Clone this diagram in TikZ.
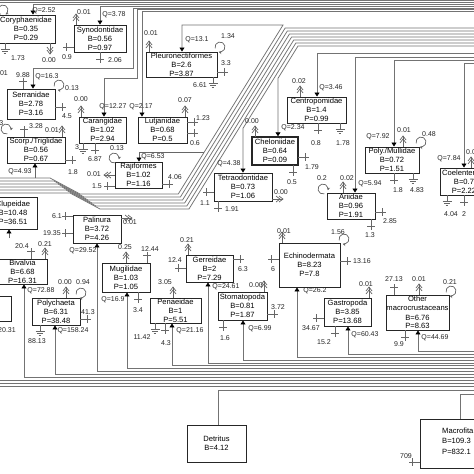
\documentclass[tikz,border=0pt]{standalone}
\usepackage{fontspec}
\setmainfont{Liberation Sans}
\usetikzlibrary{arrows.meta}
\tikzset{
  flow/.style={draw=black!60, line width=0.7pt},
  bund/.style={draw=black!55, line width=0.75pt},
  box/.style={draw=black!85, line width=0.95pt, fill=white, inner sep=0pt, align=center,
              font=\fontsize{7.6}{9}\selectfont},
  lbl/.style={inner sep=0pt, font=\fontsize{7}{8}\selectfont, text=black!85},
  qtip/.style={-{Triangle[length=4pt,width=5pt,color=black]}},
}
\newcommand{\bx}[6]{\node[box,minimum width=#4pt,minimum height=#5pt] (#1) at (#2,#3) {#6};}
\newcommand{\lb}[4]{\node[lbl] (#1) at (#2,#3) {#4};}
\newcommand{\expV}[3]{\draw[flow] (#1,#2) -- ++(0,{11*(#3)}); \draw[flow] ({#1-4},{#2+7.5*(#3)}) -- ({#1+4},{#2+7.5*(#3)});}
\newcommand{\expH}[3]{\draw[flow] (#1,#2) -- ++({11*(#3)},0); \draw[flow] ({#1+7.5*(#3)},{#2-4}) -- ({#1+7.5*(#3)},{#2+4});}
\newcommand{\gnd}[2]{\draw[flow] (#1,#2) -- ++(0,6); \draw[flow] ({#1-4.5},{#2+6}) -- ++(9,0); \draw[flow] ({#1-3},{#2+8}) -- ++(6,0); \draw[flow] ({#1-1.3},{#2+10}) -- ++(2.6,0);}
\newcommand{\respV}[3]{\draw[flow] (#1,#2) -- ++(0,{11*(#3)});
  \draw[flow] ({#1-3},{#2+7*(#3)}) -- ({#1},{#2+11*(#3)}) -- ({#1+3},{#2+7*(#3)});
  \draw[flow] ({#1-3},{#2+4*(#3)}) -- ({#1},{#2+8*(#3)}) -- ({#1+3},{#2+4*(#3)});}
\newcommand{\respH}[3]{\draw[flow] (#1,#2) -- ++({11*(#3)},0);
  \draw[flow] ({#1+7*(#3)},{#2-3}) -- ({#1+11*(#3)},{#2}) -- ({#1+7*(#3)},{#2+3});
  \draw[flow] ({#1+4*(#3)},{#2-3}) -- ({#1+8*(#3)},{#2}) -- ({#1+4*(#3)},{#2+3});}
\newcommand{\sloop}[3]{\draw[flow,-{Stealth[length=3pt,width=3pt]}] (#1,#2) ++({#3+30}:5) arc[start angle={#3+30}, end angle={#3+330}, radius=5];}
\begin{document}
\begin{tikzpicture}[x=1pt,y=-1pt]
\useasboundingbox[fill=white] (0,0) rectangle (474,474);
% ---------- boxes ----------
\bx{cory}{26}{29}{58}{28}{Coryphaenidae\\B=0.35\\P=0.29}
\bx{syn}{100}{38.5}{52}{27}{Synodontidae\\B=0.56\\P=0.97}
\bx{serr}{31}{104}{48}{30}{Serranidae\\B=2.78\\P=3.16}
\bx{pleu}{181.5}{64.5}{71}{25}{Pleuronectiformes\\B=2.6\\P=3.87}
\bx{car}{102.5}{130}{47}{26}{Carangidae\\B=1.02\\P=2.94}
\bx{lut}{162.5}{130}{49}{26}{Lutjanidae\\B=0.68\\P=0.5}
\bx{cent}{316.5}{110}{59}{26}{Centropomidae\\B=1.4\\P=0.99}
\bx{scorp}{36}{150}{58}{26}{Scorp./Triglidae\\B=0.56\\P=0.67}
\bx{raj}{138.5}{175}{47}{26}{Rajiformes\\B=1.02\\P=1.16}
\node[box,line width=1.5pt,minimum width=46pt,minimum height=28pt] (chel) at (275,151) {Cheloniidae\\B=0.64\\P=0.09};
\bx{tet}{243}{187}{58}{28}{Tetraodontidae\\B=0.73\\P=1.06}
\bx{poly}{392}{160}{54}{26}{Poly./Mullidae\\B=0.72\\P=1.51}
\bx{coel}{464}{181.5}{48}{27}{Coelenterata\\B=0.7\\P=2.22}
\bx{ari}{351}{206}{48}{26}{Ariidae\\B=0.96\\P=1.91}
\bx{clup}{13}{213}{48}{32}{Clupeidae\\B=10.48\\P=36.51}
\bx{pal}{97}{229}{48}{28}{Palinura\\B=3.72\\P=4.26}
\bx{biv}{22.5}{271.5}{49}{25}{Bivalvia\\B=6.68\\P=16.31}
\bx{poch}{56}{311.5}{48}{27}{Polychaeta\\B=6.31\\P=38.48}
\bx{lcut}{-14.5}{308.5}{51}{25}{}
\bx{mug}{126}{277.5}{48}{29}{Mugilidae\\B=1.03\\P=1.05}
\bx{pen}{175.5}{310.5}{51}{25}{Penaeidae\\B=1\\P=5.51}
\bx{ger}{209.5}{268.5}{47}{27}{Gerreidae\\B=2\\P=7.29}
\bx{sto}{242.5}{306}{49}{28}{Stomatopoda\\B=0.81\\P=1.87}
\bx{echi}{309.5}{265}{61}{44}{Echinodermata\\B=8.23\\P=7.8}
\bx{gas}{347.5}{312}{47}{28}{Gastropoda\\B=3.85\\P=13.68}
\node[box,minimum width=63pt,minimum height=35pt,font=\fontsize{7.6}{8.5}\selectfont] (oth) at (417.5,312.5) {Other\\macrocrustaceans\\[1.5pt]B=6.76\\P=8.63};
\bx{det}{216.5}{443.5}{59}{37}{Detritus\\B=4.12}
\node[box,minimum width=90pt,minimum height=49pt] (mac) at (465,443.5) {};
\node[inner sep=0pt,anchor=west,align=left,font=\fontsize{7.6}{10.5}\selectfont] (mactxt) at (442,441) {Macrofita\\B=109.3\\P=832.1};
% ---------- top connectors ----------
\draw[bund] (0,0.8) -- (474,0.8);
\draw[bund] (0,2.6) -- (474,2.6);
\draw[bund,qtip] (474,4.4) -- (33,4.4) -- (33,0 |- cory.north);
\draw[bund,qtip] (474,6.2) -- (100,6.2) -- (100,0 |- syn.north);
\draw[bund,qtip] (474,8) -- (133,8) -- (133,68) -- (33,68) -- (33,0 |- serr.north);
\draw[bund,qtip] (474,9.8) -- (137,9.8) -- (137,78) -- (104,78) -- (104,0 |- car.north);
\draw[bund,qtip] (474,11.6) -- (142,11.6) -- (142,0 |- lut.north);
\draw[bund,qtip] (0,178) -- (50,178) -- (80,194) -- (178.26,194) -- (283.04,25) -- (182,25) -- (182,0 |- pleu.north);
\foreach \i in {1,...,5}{
  \draw[bund] (474,{25+3*\i}) -- ({226+4*\i+0.62*(92-3*\i)},{25+3*\i}) -- ({226+4*\i-0.62*(77+3*\i)},{194+3*\i}) -- ({80+4*\i},{194+3*\i}) -- ({50+4*\i},{178+3*\i}) -- (0,{178+3*\i});
}
\draw[flow,qtip] (35,178) -- (35,0 |- scorp.south);
\draw[flow,qtip] (204.3,152) -- (139,152) -- (139,0 |- raj.north);
\draw[bund,qtip] (474,43) -- (295.9,43) -- (243,128.3) -- (243,0 |- tet.north);
\draw[bund,qtip] (474,46) -- (298,46) -- (278,78.3) -- (278,0 |- chel.north);
\draw[bund,qtip] (474,53) -- (317,53) -- (317,0 |- cent.north);
\draw[bund,qtip] (474,57) -- (355,57) -- (355,0 |- ari.north);
\draw[bund,qtip] (474,60) -- (394,60) -- (394,0 |- poly.north);
\draw[bund,qtip] (474,63) -- (464,63) -- (464,0 |- coel.north);
% ---------- bottom connectors ----------
\foreach \x/\b/\k in {24/biv/0,55/poch/1,97/pal/2,127/mug/3,172/pen/4,208/ger/5,243/sto/6,297/echi/7,348/gas/8,418/oth/9}{
  \draw[bund,qtip] (474,{377-2.8*\k}) -- (\x,{377-2.8*\k}) -- (\x,0 |- \b.south);
}
\foreach \yy in {380,383,386}{\draw[bund] (0,\yy) -- (474,\yy);}
\draw[bund] (218,0 |- det.north) -- (218,390) -- (474,390);
\draw[bund] (460,0 |- mac.north) -- (460,394) -- (474,394);
\draw[flow,qtip] (9,238) -- (9,0 |- clup.south);
% ---------- symbols ----------
\sloop{3}{10}{90} \gnd{5}{43} \respV{50}{43}{1}
\respV{76}{25}{-1} \expH{74}{47}{-1} \expV{100}{52}{1}
\expV{23}{89}{-1} \sloop{59}{85}{135} \expH{55}{107}{1}
\respV{81}{117}{-1} \gnd{83}{143} \expV{95}{143}{1}
\respV{185}{117}{-1} \expH{187}{122}{1} \expH{187}{133}{1}
\respV{149}{52}{-1} \sloop{220}{47}{135} \expH{217}{72}{1} \gnd{213}{77}
\respV{300}{97}{-1} \expV{318}{123}{1} \gnd{340}{123}
\expV{24}{137}{-1} \respV{62}{137}{-1} \sloop{6}{129}{45} \expH{65}{160}{1}
\sloop{114}{158}{45} \respH{115}{175}{-1} \expH{115}{186}{-1} \expH{162}{184}{1}
\respV{255}{137}{-1} \expH{298}{157}{1} \expV{293}{165}{1}
\expH{214}{192}{-1} \expV{218}{201}{1} \respH{272}{199}{1}
\respV{403}{147}{-1} \sloop{421}{142}{135} \expV{394}{173}{1} \gnd{413}{173}
\respV{471}{168}{-1} \gnd{447}{195} \expV{464}{195}{1}
\sloop{323}{189}{45} \respV{343}{193}{-1} \expH{375}{212}{1} \expV{371}{219}{1}
\expH{73}{216}{-1} \expH{73}{233}{-1} \respH{121}{218}{1}
\expV{31}{259}{-1} \respV{45}{259}{-1}
\respV{66}{298}{-1} \sloop{81}{293}{135} \expH{80}{319}{1} \gnd{40}{325}
\respV{126}{263}{-1} \expV{147}{263}{-1} \expV{138}{292}{1}
\respV{173}{298}{-1} \expV{165}{323}{1} \gnd{155}{323}
\respV{188}{255}{-1} \expH{186}{268}{-1} \expH{233}{259}{1}
\respV{264}{292}{-1} \expH{267}{314}{1} \expV{223}{320}{1}
\respV{282}{243}{-1} \expH{279}{259}{-1} \sloop{344}{239}{135} \expH{340}{261}{1}
\respV{369}{298}{-1} \expV{335}{326}{1} \expH{324}{318}{-1}
\expV{394}{295}{-1} \respV{419}{295}{-1} \sloop{451}{291}{135} \expV{405}{330}{1}
\expH{420}{462}{-1}
% ---------- labels ----------
\lb{a1}{44}{11}{Q=2.52} \lb{a2}{18}{58}{1.73} \lb{a3}{49}{60}{0.00}
\lb{a4}{114}{15}{Q=3.78} \lb{a5}{84}{12}{0.01} \lb{a6}{67}{57}{0.9} \lb{a7}{115}{60}{2.06}
\lb{a8}{47}{77}{Q=16.3} \lb{a9}{23}{75}{9.88} \node[lbl,anchor=east] (a10) at (8,73) {0.01}; \lb{a11}{72}{88}{0.13} \lb{a12}{67}{116}{4.5}
\lb{a13}{81}{99}{0.00} \lb{a14}{113}{107}{Q=12.27} \lb{a15}{77}{147}{3} \lb{a16}{95}{159}{6.87}
\lb{a17}{141}{107}{Q=2.17} \lb{a18}{185}{100}{0.07} \lb{a19}{203}{118}{1.23} \lb{a20}{195}{143}{0.6}
\lb{a21}{197}{40}{Q=13.1} \lb{a22}{151}{33}{0.01} \lb{a23}{228}{36}{1.34} \lb{a24}{226}{63}{3.3} \lb{a25}{200}{85}{6.61}
\lb{a26}{331}{88}{Q=3.46} \lb{a27}{299}{81}{0.02} \lb{a28}{316}{143}{0.8} \lb{a29}{343}{143}{1.78}
\lb{a30}{36}{126}{3.28} \lb{a31}{52}{130}{0.01} \node[lbl,anchor=east] (a32) at (3.5,123) {3}; \lb{a33}{20}{172}{Q=4.93} \lb{a34}{73}{172}{1.8}
\lb{a35}{153}{157}{Q=6.53} \lb{a36}{117}{148}{0.13} \lb{a37}{94}{174}{0.01} \lb{a38}{97}{186}{1.5} \lb{a39}{175}{177}{4.06}
\lb{a40}{293}{128}{Q=2.34} \lb{a41}{252}{121}{0.00} \lb{a42}{312}{167}{1.79} \lb{a43}{292}{182}{0.5}
\lb{a44}{229}{164}{Q=4.38} \lb{a45}{205}{203}{1.1} \lb{a46}{232}{209}{1.91} \lb{a47}{281}{192}{0.00}
\lb{a48}{378}{137}{Q=7.92} \lb{a49}{404}{130}{0.01} \lb{a50}{429}{134}{0.48} \lb{a51}{398}{190}{1.8} \lb{a52}{417}{190}{4.83}
\lb{a53}{449}{159}{Q=7.84} \node[lbl,anchor=west] (a54) at (466,152) {0.01}; \lb{a55}{451}{214}{4.04} \lb{a56}{464}{214}{2}
\lb{a57}{370}{184}{Q=5.94} \lb{a58}{322}{178}{0.2} \lb{a59}{347}{178}{0.02} \lb{a60}{390}{221}{2.85} \lb{a61}{370}{235}{1.3}
\lb{a62}{83}{251}{Q=29.52} \lb{a63}{57}{216}{6.1} \lb{a64}{52}{233}{19.35} \lb{a65}{130}{222}{0.01}
\lb{a66}{41}{291}{Q=72.88} \lb{a67}{22}{246}{20.4} \lb{a68}{45}{244}{0.21}
\lb{a69}{73}{331}{Q=158.24} \lb{a70}{65}{282}{0.00} \lb{a71}{83}{282}{0.94} \lb{a72}{88}{312}{41.3} \lb{a73}{37}{341}{88.13}
\lb{a74}{7}{330}{20.31}
\lb{a75}{113}{300}{Q=16.9} \lb{a76}{125}{247}{0.25} \lb{a77}{150}{249}{12.44} \lb{a78}{138}{310}{3.4}
\lb{a79}{190}{331}{Q=21.16} \lb{a80}{165}{282}{3.05} \lb{a81}{166}{343}{4.3} \lb{a82}{142}{337}{11.42}
\lb{a83}{226}{287}{Q=24.61} \lb{a84}{187}{240}{0.21} \lb{a85}{175}{260}{12.4} \lb{a86}{243}{269}{6.3}
\lb{a87}{260}{329}{Q=6.99} \lb{a88}{256}{285}{0.00} \lb{a89}{278}{307}{3.72} \lb{a90}{225}{338}{1.6}
\lb{a91}{315}{291}{Q=26.2} \lb{a92}{284}{231}{0.01} \lb{a93}{273}{269}{6} \lb{a94}{338}{232}{1.56} \lb{a95}{362}{261}{13.16}
\lb{a96}{365}{335}{Q=60.43} \lb{a97}{366}{284}{0.01} \lb{a98}{324}{342}{15.2} \lb{a99}{311}{328}{34.67}
\lb{a100}{435}{338}{Q=44.69} \lb{a101}{394}{279}{27.13} \lb{a102}{419}{279}{0.01} \lb{a103}{450}{282}{0.21} \lb{a104}{399}{344}{9.9}
\lb{a105}{406}{456}{709}
\end{tikzpicture}
\end{document}
